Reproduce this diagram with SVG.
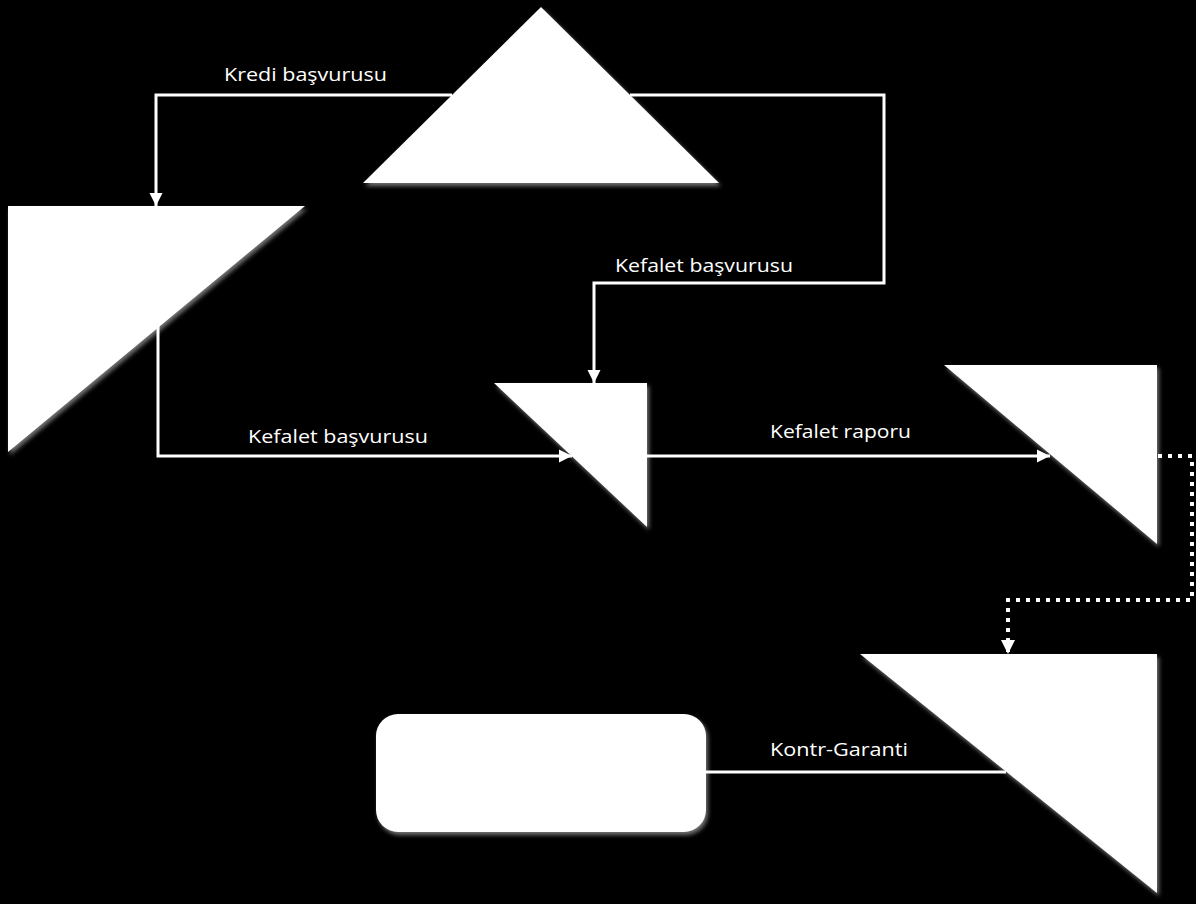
<svg xmlns="http://www.w3.org/2000/svg" width="1196" height="904" viewBox="0 0 1196 904">
<defs>
<style>
.node{fill:#fff;filter:url(#glow)}
.conn{fill:none;stroke:#fff;stroke-width:3}
.dot{fill:none;stroke:#fff;stroke-width:4;stroke-dasharray:4 6}
.lbl{fill:#fff;font-family:"Open Sans","Liberation Sans",sans-serif;font-size:18px}
</style>
<filter id="glow" x="-10%" y="-10%" width="120%" height="120%">
<feDropShadow dx="2" dy="3" stdDeviation="2" flood-color="#fff" flood-opacity="0.45"/>
</filter>
<marker id="arr" viewBox="0 0 10 10" refX="10" refY="5" markerWidth="4.5" markerHeight="4.5" orient="auto" markerUnits="strokeWidth">
<path d="M0,0 L10,5 L0,10 Z" fill="#fff"/>
</marker>
<marker id="arrd" viewBox="0 0 10 10" refX="10" refY="5" markerWidth="3.5" markerHeight="3.5" orient="auto" markerUnits="strokeWidth">
<path d="M0,0 L10,5 L0,10 Z" fill="#fff"/>
</marker>
</defs>
<rect width="1196" height="904" fill="#000"/>
<g id="connectors">
<path class="conn" d="M452,95 H156 V206" marker-end="url(#arr)"/>
<path class="conn" d="M630,95 H884 V283 H594 V383" marker-end="url(#arr)"/>
<path class="conn" d="M158,322 V456 H572" marker-end="url(#arr)"/>
<path class="conn" d="M647,456 H1050" marker-end="url(#arr)"/>
<path class="dot" d="M1158,456 H1192 V600 H1008 V654" marker-end="url(#arrd)"/>
<path class="conn" d="M1006,772 H706"/>
<text class="lbl" x="224" y="81" textLength="163" lengthAdjust="spacingAndGlyphs">Kredi başvurusu</text>
<text class="lbl" x="615" y="272" textLength="178" lengthAdjust="spacingAndGlyphs">Kefalet başvurusu</text>
<text class="lbl" x="248" y="443" textLength="180" lengthAdjust="spacingAndGlyphs">Kefalet başvurusu</text>
<text class="lbl" x="770" y="438" textLength="141" lengthAdjust="spacingAndGlyphs">Kefalet raporu</text>
<text class="lbl" x="770" y="756" textLength="138" lengthAdjust="spacingAndGlyphs">Kontr-Garanti</text>
</g>
<g id="node-top"><polygon class="node" points="541,7 719,183 363,183"/></g>
<g id="node-left"><polygon class="node" points="8,206 305,206 8,452"/></g>
<g id="node-middle"><polygon class="node" points="494,383 647,383 647,527"/></g>
<g id="node-right"><polygon class="node" points="944,365 1157,365 1157,544"/></g>
<g id="node-bottom"><polygon class="node" points="860,654 1157,654 1157,893"/></g>
<g id="node-rect"><rect class="node" x="376" y="714" width="330" height="118" rx="22"/></g>
</svg>
